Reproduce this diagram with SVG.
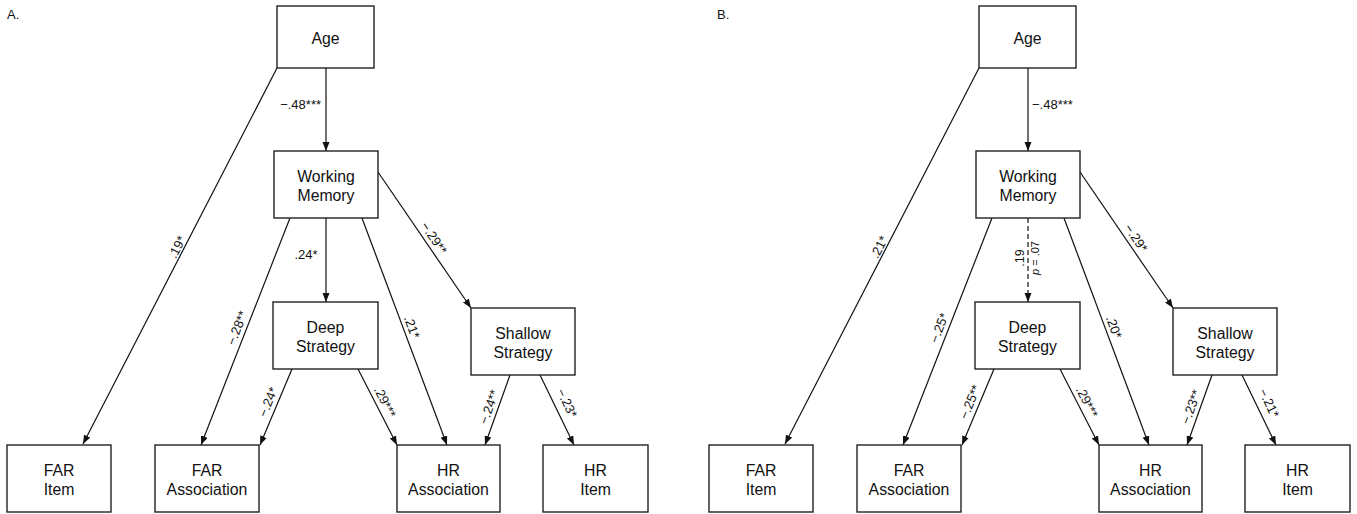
<svg xmlns="http://www.w3.org/2000/svg" width="1357" height="514" viewBox="0 0 1357 514">
  <defs>
    <marker id="arr" markerUnits="userSpaceOnUse" markerWidth="10" markerHeight="8" refX="9" refY="3.5" orient="auto">
      <path d="M0,0 L9,3.5 L0,7 z" fill="#111"/>
    </marker>
    <style>
      .box { fill: #fff; stroke: #222; stroke-width: 1.4; }
      .nt { font-family: "Liberation Sans", Arial, sans-serif; font-size: 15.8px; fill: #111; text-anchor: middle; }
      .el { font-family: "Liberation Sans", Arial, sans-serif; font-size: 13px; fill: #111; text-anchor: middle; }
      .edge { stroke: #111; stroke-width: 1.2; fill: none; marker-end: url(#arr); }
      .dash { stroke-dasharray: 5 3; }
      .panel { font-family: "Liberation Sans", Arial, sans-serif; font-size: 13px; fill: #111; }
    </style>
  </defs>
  <rect width="1357" height="514" fill="#fff"/>

  <!-- Panel A -->
  <g id="panelA">
    <text class="panel" x="7" y="19">A.</text>
    <g id="A-connectors">
      <path class="edge" d="M277,68 L83,444"/>
      <path class="edge" d="M326,68 L326,151"/>
      <path class="edge" d="M290,218 L201,445"/>
      <path class="edge" d="M326,218 L326,302"/>
      <path class="edge" d="M362,218 L447,445"/>
      <path class="edge" d="M378,172 L471,308"/>
      <path class="edge" d="M292,369 L260,445"/>
      <path class="edge" d="M358,369 L397,445"/>
      <path class="edge" d="M510,375 L485,445"/>
      <path class="edge" d="M540,375 L574,445"/>
      <text class="el" x="321" y="109" style="text-anchor:end">−.48***</text>
      <text class="el" x="306" y="259">.24*</text>
      <text class="el" transform="translate(177,247) rotate(-63)" y="4.5">.19*</text>
      <text class="el" transform="translate(237,328) rotate(-68.8)" y="4.5">−.28**</text>
      <text class="el" transform="translate(412,327) rotate(69.5)" y="4.5">.21*</text>
      <text class="el" transform="translate(434,238) rotate(56.2)" y="4.5">−.29**</text>
      <text class="el" transform="translate(268,402) rotate(-67.2)" y="4.5">−.24*</text>
      <text class="el" transform="translate(385,402) rotate(63.4)" y="4.5">.29***</text>
      <text class="el" transform="translate(489,407) rotate(-70.3)" y="4.5">−.24**</text>
      <text class="el" transform="translate(567,403) rotate(64)" y="4.5">−.23*</text>
    </g>
    <g id="A-age"><rect class="box" x="277" y="6" width="97" height="62"/><text class="nt" x="325.5" y="44">Age</text></g>
    <g id="A-wm"><rect class="box" x="274" y="151" width="104" height="67"/><text class="nt" x="326" y="182">Working</text><text class="nt" x="326" y="201">Memory</text></g>
    <g id="A-deep"><rect class="box" x="273" y="302" width="105" height="67"/><text class="nt" x="325.5" y="333">Deep</text><text class="nt" x="325.5" y="352">Strategy</text></g>
    <g id="A-shallow"><rect class="box" x="471" y="308" width="104" height="67"/><text class="nt" x="523" y="339">Shallow</text><text class="nt" x="523" y="358">Strategy</text></g>
    <g id="A-faritem"><rect class="box" x="7" y="445" width="104" height="67"/><text class="nt" x="59" y="476">FAR</text><text class="nt" x="59" y="495">Item</text></g>
    <g id="A-farassoc"><rect class="box" x="155" y="445" width="104" height="67"/><text class="nt" x="207" y="476">FAR</text><text class="nt" x="207" y="495">Association</text></g>
    <g id="A-hrassoc"><rect class="box" x="397" y="445" width="103" height="67"/><text class="nt" x="448.5" y="476">HR</text><text class="nt" x="448.5" y="495">Association</text></g>
    <g id="A-hritem"><rect class="box" x="543" y="445" width="105" height="67"/><text class="nt" x="595.5" y="476">HR</text><text class="nt" x="595.5" y="495">Item</text></g>
  </g>

  <!-- Panel B -->
  <g id="panelB" transform="translate(702,0)">
    <text class="panel" x="15" y="19">B.</text>
    <g id="B-connectors">
      <path class="edge" d="M277,68 L83,444"/>
      <path class="edge" d="M326,68 L326,151"/>
      <path class="edge" d="M290,218 L201,445"/>
      <path class="edge dash" d="M326,218 L326,302"/>
      <path class="edge" d="M362,218 L447,445"/>
      <path class="edge" d="M378,172 L471,308"/>
      <path class="edge" d="M292,369 L260,445"/>
      <path class="edge" d="M358,369 L397,445"/>
      <path class="edge" d="M510,375 L485,445"/>
      <path class="edge" d="M540,375 L574,445"/>
      <text class="el" x="330" y="109" style="text-anchor:start">−.48***</text>
      <text class="el" transform="translate(322,258) rotate(-90)" style="font-size:12.5px">.19</text>
      <text class="el" transform="translate(336.5,258) rotate(-90)" style="font-size:11px"><tspan font-style="italic">p</tspan> = .07</text>
      <text class="el" transform="translate(177,247) rotate(-63)" y="4.5">.21*</text>
      <text class="el" transform="translate(237,328) rotate(-68.8)" y="4.5">−.25*</text>
      <text class="el" transform="translate(412,327) rotate(69.5)" y="4.5">.20*</text>
      <text class="el" transform="translate(434,238) rotate(56.2)" y="4.5">−.29*</text>
      <text class="el" transform="translate(268,402) rotate(-67.2)" y="4.5">−.25**</text>
      <text class="el" transform="translate(385,402) rotate(63.4)" y="4.5">.29***</text>
      <text class="el" transform="translate(489,407) rotate(-70.3)" y="4.5">−.23**</text>
      <text class="el" transform="translate(567,403) rotate(64)" y="4.5">−.21*</text>
    </g>
    <g id="B-age"><rect class="box" x="277" y="6" width="97" height="62"/><text class="nt" x="325.5" y="44">Age</text></g>
    <g id="B-wm"><rect class="box" x="274" y="151" width="104" height="67"/><text class="nt" x="326" y="182">Working</text><text class="nt" x="326" y="201">Memory</text></g>
    <g id="B-deep"><rect class="box" x="273" y="302" width="105" height="67"/><text class="nt" x="325.5" y="333">Deep</text><text class="nt" x="325.5" y="352">Strategy</text></g>
    <g id="B-shallow"><rect class="box" x="471" y="308" width="104" height="67"/><text class="nt" x="523" y="339">Shallow</text><text class="nt" x="523" y="358">Strategy</text></g>
    <g id="B-faritem"><rect class="box" x="7" y="445" width="104" height="67"/><text class="nt" x="59" y="476">FAR</text><text class="nt" x="59" y="495">Item</text></g>
    <g id="B-farassoc"><rect class="box" x="155" y="445" width="104" height="67"/><text class="nt" x="207" y="476">FAR</text><text class="nt" x="207" y="495">Association</text></g>
    <g id="B-hrassoc"><rect class="box" x="397" y="445" width="103" height="67"/><text class="nt" x="448.5" y="476">HR</text><text class="nt" x="448.5" y="495">Association</text></g>
    <g id="B-hritem"><rect class="box" x="543" y="445" width="105" height="67"/><text class="nt" x="595.5" y="476">HR</text><text class="nt" x="595.5" y="495">Item</text></g>
  </g>
</svg>
